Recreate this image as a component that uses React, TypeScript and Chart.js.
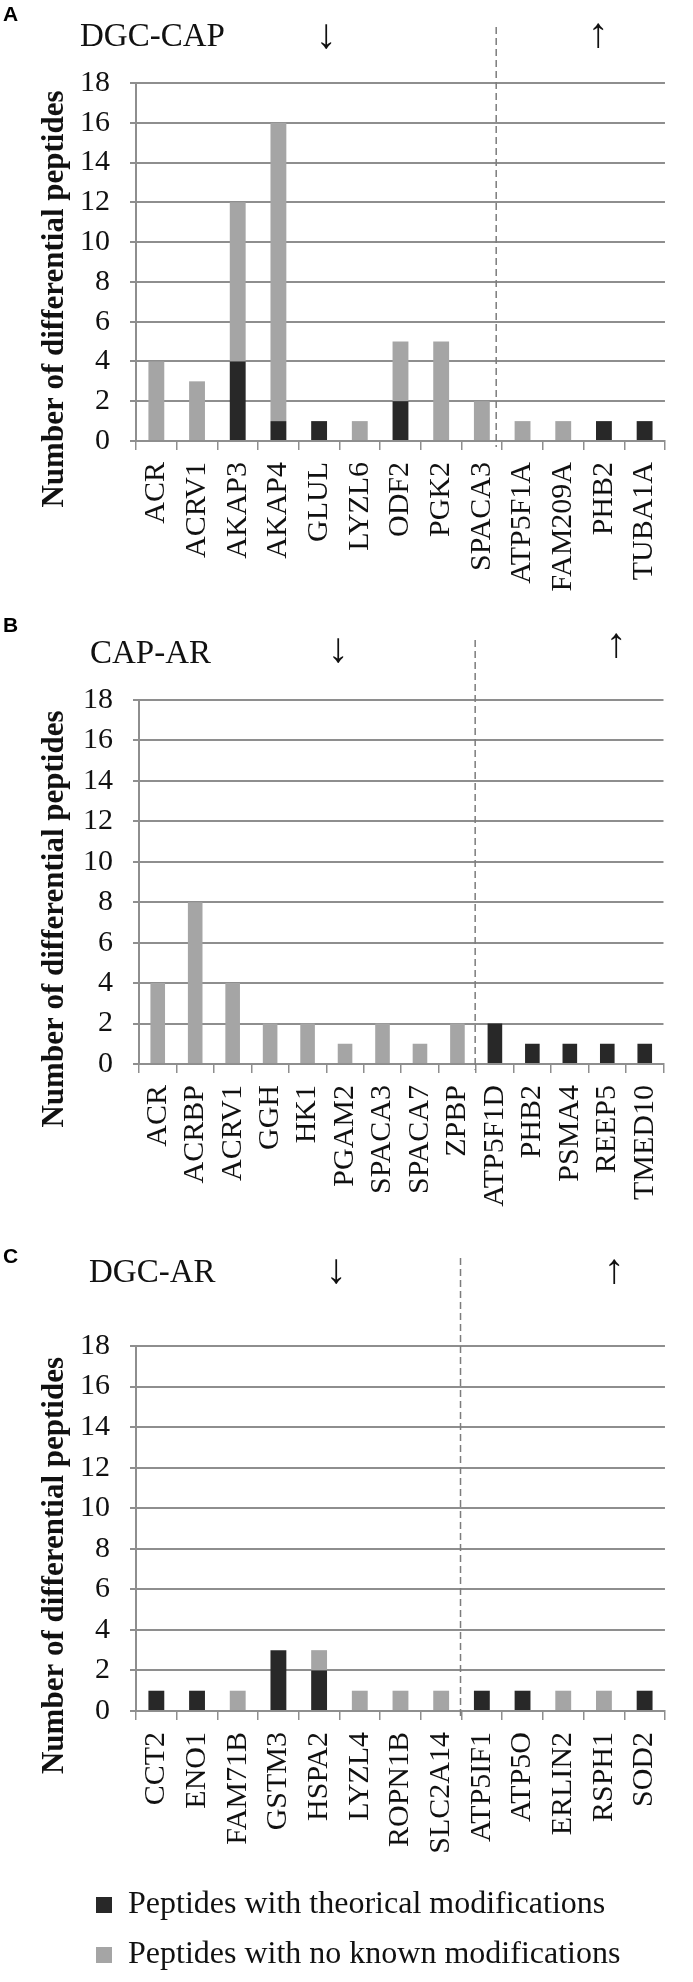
import React, { useEffect, useRef } from "react";
import { Chart, registerables } from "chart.js";

Chart.register(...registerables);

// ---------- data ----------
const SERIES_NAMES = [
  "Peptides with theorical modifications",
  "Peptides with no known modifications",
];
const Y_TITLE = "Number of differential peptides";
const Y_MIN = 0;
const Y_MAX = 18;
const Y_STEP = 2;

const proteinsA = ["ACR", "ACRV1", "AKAP3", "AKAP4", "GLUL", "LYZL6", "ODF2", "PGK2", "SPACA3", "ATP5F1A", "FAM209A", "PHB2", "TUBA1A"];
const modifiedA = [0, 0, 4, 1, 1, 0, 2, 0, 0, 0, 0, 1, 1];
const unmodifiedA = [4, 3, 8, 15, 0, 1, 3, 5, 2, 1, 1, 0, 0];
const firstUpA = 9; // index of first "up" protein

const proteinsB = ["ACR", "ACRBP", "ACRV1", "GGH", "HK1", "PGAM2", "SPACA3", "SPACA7", "ZPBP", "ATP5F1D", "PHB2", "PSMA4", "REEP5", "TMED10"];
const modifiedB = [0, 0, 0, 0, 0, 0, 0, 0, 0, 2, 1, 1, 1, 1];
const unmodifiedB = [4, 8, 4, 2, 2, 1, 2, 1, 2, 0, 0, 0, 0, 0];
const firstUpB = 9;

const proteinsC = ["CCT2", "ENO1", "FAM71B", "GSTM3", "HSPA2", "LYZL4", "ROPN1B", "SLC2A14", "ATP5IF1", "ATP5O", "ERLIN2", "RSPH1", "SOD2"];
const modifiedC = [1, 1, 0, 3, 2, 0, 0, 0, 1, 1, 0, 0, 1];
const unmodifiedC = [0, 0, 1, 0, 1, 1, 1, 1, 0, 0, 1, 1, 0];
const firstUpC = 8;

const panelLetters = ["A", "B", "C"];
const comparisons = ["DGC-CAP", "CAP-AR", "DGC-AR"];

// ---------- styles ----------
const SERIF = "'Liberation Serif', 'Times New Roman', serif";
const DARK = "#282828";
const GRAY = "#a5a5a5";
const GRID = "#8e8e8e";
const TEXT = "#111111";
const X_AXIS_H = 160;
const LEGEND_H = 110;
const PAD_LEFT = 78;

const decorPlugin = {
  id: "panelDecor",
  afterDraw(chart: any, _args: any, o: any) {
    const { ctx, chartArea, scales } = chart;
    const xs = scales.x;
    ctx.save();
    const xSplit = (xs.getPixelForValue(o.split - 1) + xs.getPixelForValue(o.split)) / 2 + o.dashShift;
    ctx.setLineDash([7, 4]);
    ctx.strokeStyle = "#7c7c7c";
    ctx.lineWidth = 1.5;
    ctx.beginPath();
    ctx.moveTo(xSplit, o.dashTop);
    ctx.lineTo(xSplit, chartArea.bottom + 6);
    ctx.stroke();
    ctx.setLineDash([]);

    ctx.fillStyle = "#000";
    ctx.textAlign = "left";
    ctx.textBaseline = "alphabetic";
    ctx.font = "bold 21px 'Liberation Sans', Arial, sans-serif";
    ctx.fillText(o.letter, 3, o.letterBase);

    ctx.fillStyle = TEXT;
    ctx.font = "33px " + SERIF;
    ctx.fillText(o.title, o.titleX, o.titleBase);

    ctx.textAlign = "center";
    ctx.textBaseline = "middle";
    ctx.font = "42px 'Liberation Serif', 'DejaVu Serif', serif";
    ctx.fillText("\u2193", o.downX, o.downY);
    ctx.fillText("\u2191", o.upX, o.upY);

    ctx.translate(55, (chartArea.top + chartArea.bottom) / 2 + 37);
    ctx.rotate(-Math.PI / 2);
    ctx.font = "bold 31px " + SERIF;
    ctx.fillText(Y_TITLE, 0, 0);
    ctx.restore();
  },
};

type PanelCfg = {
  labels: string[];
  modified: number[];
  unmodified: number[];
  split: number;
  letter: string;
  title: string;
  height: number;
  top: number;
  plotH: number;
  rightPad: number;
  yWidth: number;
  letterBase: number;
  titleX: number;
  titleBase: number;
  downX: number;
  downY: number;
  upX: number;
  upY: number;
  dashTop: number;
  dashShift: number;
  legend: boolean;
};

const panels: PanelCfg[] = [
  {
    labels: proteinsA, modified: modifiedA, unmodified: unmodifiedA, split: firstUpA,
    letter: panelLetters[0], title: comparisons[0],
    height: 612, top: 83, plotH: 358, rightPad: 10, yWidth: 58,
    letterBase: 21, titleX: 80, titleBase: 46, downX: 326, downY: 37, upX: 598, upY: 36, dashTop: 27, dashShift: -6, legend: false,
  },
  {
    labels: proteinsB, modified: modifiedB, unmodified: unmodifiedB, split: firstUpB,
    letter: panelLetters[1], title: comparisons[1],
    height: 630, top: 88, plotH: 364, rightPad: 7, yWidth: 61,
    letterBase: 20, titleX: 90, titleBase: 51, downX: 338, downY: 39, upX: 616, upY: 34, dashTop: 28, dashShift: -1, legend: false,
  },
  {
    labels: proteinsC, modified: modifiedC, unmodified: unmodifiedC, split: firstUpC,
    letter: panelLetters[2], title: comparisons[2],
    height: 739, top: 104, plotH: 365, rightPad: 10, yWidth: 58,
    letterBase: 21, titleX: 89, titleBase: 40, downX: 336, downY: 30, upX: 614, upY: 30, dashTop: 16, dashShift: -1, legend: true,
  },
];

function Panel({ cfg }: { cfg: PanelCfg }) {
  const ref = useRef<HTMLCanvasElement>(null);
  useEffect(() => {
    const padBottom = cfg.height - cfg.top - cfg.plotH - X_AXIS_H - (cfg.legend ? LEGEND_H : 0);
    const tickFont = { family: SERIF, size: 30 };
    const chart = new Chart(ref.current as HTMLCanvasElement, {
      type: "bar",
      data: {
        labels: cfg.labels,
        datasets: [
          { label: SERIES_NAMES[0], data: cfg.modified, backgroundColor: DARK, borderWidth: 0, barPercentage: 0.39, categoryPercentage: 1 },
          { label: SERIES_NAMES[1], data: cfg.unmodified, backgroundColor: GRAY, borderWidth: 0, barPercentage: 0.39, categoryPercentage: 1 },
        ],
      },
      options: {
        responsive: false,
        animation: false,
        devicePixelRatio: 1,
        layout: { padding: { left: PAD_LEFT, right: cfg.rightPad, top: cfg.top, bottom: padBottom } },
        scales: {
          x: {
            stacked: true,
            grid: { drawOnChartArea: false, drawTicks: true, tickLength: 9, color: GRID, lineWidth: 1.5, offset: true },
            border: { display: true, color: GRID, width: 2 },
            ticks: { autoSkip: false, minRotation: 90, maxRotation: 90, padding: 12, color: TEXT, font: tickFont },
            afterFit: (s: any) => { s.height = X_AXIS_H; },
          },
          y: {
            stacked: true,
            min: Y_MIN,
            max: Y_MAX,
            ticks: { stepSize: Y_STEP, padding: 20, color: TEXT, font: tickFont },
            grid: { color: GRID, lineWidth: 2, tickLength: 6 },
            border: { display: true, color: GRID, width: 2 },
            afterFit: (s: any) => { s.width = cfg.yWidth; },
          },
        },
        plugins: {
          legend: cfg.legend
            ? {
                display: true,
                position: "bottom",
                align: "start",
                labels: { boxWidth: 16, boxHeight: 16, padding: 18, color: TEXT, font: { family: SERIF, size: 32 } },
              }
            : { display: false },
          tooltip: { enabled: false },
          panelDecor: {
            split: cfg.split, dashTop: cfg.dashTop, dashShift: cfg.dashShift, letter: cfg.letter, letterBase: cfg.letterBase,
            title: cfg.title, titleX: cfg.titleX, titleBase: cfg.titleBase,
            downX: cfg.downX, downY: cfg.downY, upX: cfg.upX, upY: cfg.upY,
          },
        } as any,
      },
      plugins: [decorPlugin],
    });
    return () => chart.destroy();
  }, [cfg]);
  return (
    <canvas
      ref={ref}
      width={693}
      height={cfg.height}
      style={{ display: "block", width: "693px", height: cfg.height + "px" }}
    />
  );
}

export default function App() {
  useEffect(() => {
    document.body.style.margin = "0";
  }, []);
  return (
    <div style={{ width: 693, height: 1982, overflow: "hidden", background: "#fff", position: "relative" }}>
      {panels.map((p, i) => (
        <Panel key={i} cfg={p} />
      ))}
    </div>
  );
}
